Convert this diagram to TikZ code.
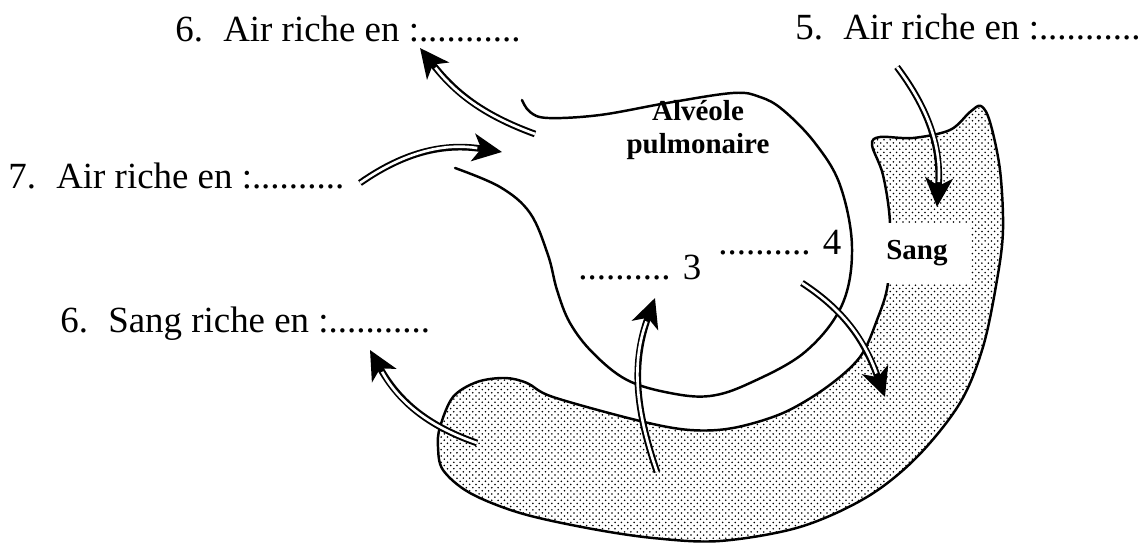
\documentclass[tikz,border=0pt]{standalone}
\usepackage{fontspec}
\setmainfont{Liberation Serif}
\usetikzlibrary{arrows.meta, patterns}

% points du sang
\pgfdeclarepatternformonly{sangdots}{\pgfqpoint{-1pt}{-1pt}}{\pgfqpoint{4.6pt}{4.6pt}}{\pgfqpoint{3.6pt}{3.6pt}}{
  \pgfpathcircle{\pgfqpoint{0.9pt}{0.9pt}}{0.5pt}
  \pgfpathcircle{\pgfqpoint{2.7pt}{2.7pt}}{0.5pt}
  \pgfusepath{fill}}

\begin{document}
\begin{tikzpicture}[x=0.02cm, y=-0.02cm,
  lbl/.style={anchor=base west, inner sep=0pt, font=\fontsize{21}{25}\selectfont},
  boldlbl/.style={inner sep=0pt, align=center, font=\fontsize{16.5}{18.8}\selectfont\bfseries},
  wall/.style={line width=1.4pt, line join=round, line cap=round},
  flow/.style={line width=3.8pt, -{Stealth[length=0.58cm, width=0.55cm, inset=0.16cm]},
               postaction={draw=white, line width=1.5pt, -, shorten >=0.5cm}}]
  \useasboundingbox (0,0) rectangle (1144,543);

  % Capillaire sanguin
  \draw[wall, pattern=sangdots] plot[smooth cycle, tension=0.55] coordinates {
    (890,223) (888,283) (877,320) (860,357) (827,387) (783,413) (733,428)
    (690,430) (640,421) (553,397) (527,383) (505,378) (477,382) (453,397)
    (440,427) (438,447) (443,470) (470,493) (520,513) (587,528) (653,538)
    (720,541) (800,527) (867,497) (917,457) (960,403) (983,347) (997,280)
    (1003,230) (1000,170) (990,122) (981,106) (970,112) (950,130) (913,138)
    (880,137) (872,145) (883,175)};

  % Alveole
  \draw[wall] plot[smooth, tension=0.6] coordinates {
    (522,100) (530,112) (548,118) (600,115) (667,103) (733,93) (760,97)
    (783,110) (815,143) (840,185) (852,247) (842,305) (805,352) (750,383)
    (710,396) (670,393) (627,380) (593,353) (570,323) (557,290) (548,255)
    (530,213) (500,187) (455,168)};

  % Textes
  \node[lbl] (air6) at (175,42) {6.\hspace{.55em}Air riche en :...........};
  \node[lbl] (air5) at (795,40) {5.\hspace{.55em}Air riche en :...........};
  \node[lbl] (air7) at (8,189) {7.\hspace{.55em}Air riche en :..........};
  \node[lbl] (sang6) at (60,333) {6.\hspace{.55em}Sang riche en :...........};
  \node[lbl] (gaz3) at (578,280) {.......... 3};
  \node[lbl] (gaz4) at (718,255) {.......... 4};
  \node[boldlbl] (alv) at (698,130) {Alvéole\\pulmonaire};
  \node[boldlbl, fill=white, anchor=west, minimum height=1.2cm, text width=1.55cm,
        inner xsep=0.12cm, align=left] (sang) at (880,253) {Sang};

  % Fleches
  \coordinate (a6s) at (535,134);
  \coordinate (a6e) at (420,48);
  \coordinate (a7s) at (360,183);
  \coordinate (a7e) at (502,152);
  \coordinate (a5s) at (897,67);
  \coordinate (a5e) at (937,207);
  \coordinate (a4s) at (802,283);
  \coordinate (a4e) at (885,397);
  \coordinate (a3s) at (657,472);
  \coordinate (a3e) at (655,298);
  \coordinate (ass) at (477,443);
  \coordinate (ase) at (370,350);

  \draw[flow] (a6s) to[out=160, in=-52] (a6e);
  \draw[flow] (a7s) to[out=35, in=171] (a7e);
  \draw[flow] (a5s) to[out=-53, in=86] (a5e);
  \draw[flow] (a4s) to[out=-33, in=110] (a4e);
  \draw[flow] (a3s) to[out=109, in=-110] (a3e);
  \draw[flow] (ass) to[out=161, in=-61] (ase);
\end{tikzpicture}
\end{document}
